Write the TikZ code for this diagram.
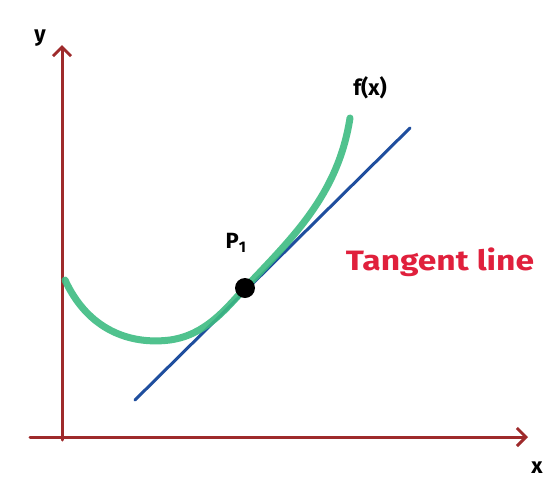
\documentclass[tikz,border=0pt]{standalone}
\usepackage{fontspec}
\setmainfont{Fira Sans}
\usetikzlibrary{arrows.meta}
\definecolor{axisred}{HTML}{9E2A2B}
\definecolor{curvegreen}{HTML}{3DBB82}
\definecolor{lineblue}{HTML}{1F4E9E}
\definecolor{labelred}{HTML}{E0203C}
\tikzset{
  axis/.style={draw=axisred, line width=3pt, line cap=round, -{Straight Barb[length=9pt,width=18pt,line width=3pt]}},
  lbl/.style={font=\fontsize{22}{24}\selectfont\bfseries, text=black},
}
\begin{document}
\begin{tikzpicture}[x=1pt,y=-1pt]
\useasboundingbox (0,0) rectangle (550,483);
% axes
\coordinate (yb) at (62,440);
\coordinate (yt) at (62,45);
\coordinate (xl) at (30,437);
\coordinate (xr) at (528,437);
\draw[axis] (yb) -- (yt);
\draw[axis] (xl) -- (xr);
% tangent line
\coordinate (ts) at (135,400);
\coordinate (te) at (410,128);
\draw[lineblue, line width=3pt, line cap=round] (ts) -- (te);
% curve
\draw[curvegreen, line width=7pt, line cap=round, opacity=0.9]
  (65,280) .. controls (88,330) and (130,345) .. (170,340)
  .. controls (205,335) and (225,310) .. (245,288)
  .. controls (292,238) and (338,195) .. (350,118);
% point
\node[circle, fill=black, minimum size=20pt, inner sep=0pt] (p1) at (245,288) {};
% labels
\node[lbl] (ylab) at (40,38) {y};
\node[lbl] (xlab) at (537,468) {x};
\node[lbl] (flab) at (370,88) {f(x)};
\node[lbl] (plab) at (236,243) {P\textsubscript{1}};
\node[font=\fontsize{28}{30}\selectfont\bfseries, text=labelred, xscale=1.2] (tlab) at (440,262) {Tangent line};
\end{tikzpicture}
\end{document}
